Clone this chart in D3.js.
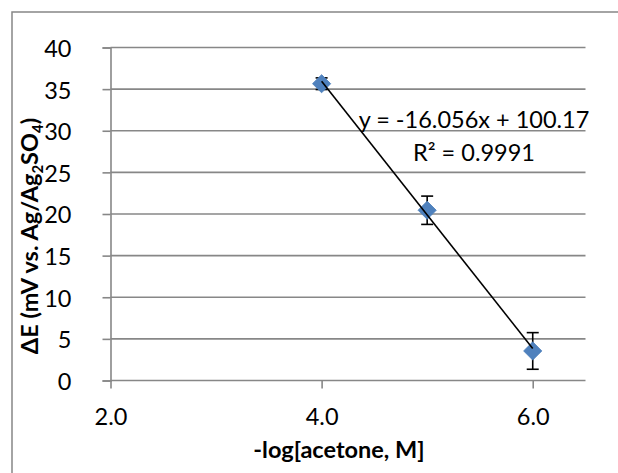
<!DOCTYPE html>
<html>
<head>
<meta charset="utf-8">
<script src="https://cdn.jsdelivr.net/npm/d3@7"></script>
<style>
  html, body { margin: 0; padding: 0; background: #fff; }
  svg { display: block; font-family: Lato, "Open Sans", sans-serif; }
</style>
</head>
<body>
<svg id="chart" width="618" height="473"></svg>
<script>
// ---- data ----
const xValues = [4, 5, 6];
const yValues = [35.65, 20.45, 3.55];
const yErrors = [0.7, 1.7, 2.2];
const xTicks = [2, 4, 6];
const yTicks = [0, 5, 10, 15, 20, 25, 30, 35, 40];
const trendSlope = -16.056;
const trendIntercept = 100.17;
const equationLabel = "y = -16.056x + 100.17";
const r2Label = "R² = 0.9991";

// ---- layout ----
const W = 618, H = 473;
const plot = { left: 110.5, right: 585.5, top: 47.5, bottom: 380.5 };
const gridColor = "#878787";
const FS = 23.5;
const svg = d3.select("#chart");

svg.append("rect").attr("x", 0).attr("y", 0).attr("width", W).attr("height", H).attr("fill", "#fff");
// chart area border (extends beyond view on right and bottom)
svg.append("rect").attr("x", 12).attr("y", 12).attr("width", W + 20).attr("height", H + 20)
  .attr("fill", "none").attr("stroke", gridColor).attr("stroke-width", 1.5);

const x = d3.scaleLinear().domain([2, 6.5]).range([plot.left, plot.right]);
const y = d3.scaleLinear().domain([0, 40]).range([plot.bottom, plot.top]);

// gridlines
svg.append("g").selectAll("line").data(yTicks.filter(d => d !== 0)).join("line")
  .attr("x1", plot.left).attr("x2", plot.right)
  .attr("y1", d => y(d)).attr("y2", d => y(d))
  .attr("stroke", gridColor).attr("stroke-width", 1.6);

// y axis
const yAxis = d3.axisLeft(y).tickValues(yTicks).tickSize(8).tickPadding(31).tickFormat(d3.format("d"));
const gy = svg.append("g").attr("transform", `translate(${plot.left},0)`).call(yAxis);
gy.select(".domain").attr("stroke", gridColor).attr("stroke-width", 1.6);
gy.selectAll(".tick line").attr("stroke", gridColor).attr("stroke-width", 1.6);
gy.selectAll(".tick text").attr("font-size", FS).attr("fill", "#000")
  .attr("font-family", "Lato, 'Open Sans', sans-serif").attr("dy", "0.38em");

// x axis
const xAxis = d3.axisBottom(x).tickValues(xTicks).tickSize(8).tickPadding(20).tickFormat(d3.format(".1f"));
const gx = svg.append("g").attr("transform", `translate(0,${plot.bottom})`).call(xAxis);
gx.select(".domain").attr("d", `M${plot.left},0H${plot.right}`).attr("stroke", gridColor).attr("stroke-width", 1.6);
gx.selectAll(".tick line").attr("stroke", gridColor).attr("stroke-width", 1.6);
gx.selectAll(".tick text").attr("font-size", FS).attr("fill", "#000")
  .attr("font-family", "Lato, 'Open Sans', sans-serif").attr("dy", "0.71em");

// error bars
const pts = xValues.map((v, i) => ({ x: v, y: yValues[i], e: yErrors[i] }));
const eb = svg.append("g").attr("stroke", "#000").attr("stroke-width", 1.6).attr("fill", "none");
pts.forEach(p => {
  const cx = x(p.x), y1 = y(p.y + p.e), y2 = y(p.y - p.e);
  eb.append("line").attr("x1", cx).attr("x2", cx).attr("y1", y1).attr("y2", y2);
  eb.append("line").attr("x1", cx - 6).attr("x2", cx + 6).attr("y1", y1).attr("y2", y1);
  eb.append("line").attr("x1", cx - 6).attr("x2", cx + 6).attr("y1", y2).attr("y2", y2);
});

// markers (diamonds)
svg.append("g").selectAll("path").data(pts).join("path")
  .attr("d", d3.symbol(d3.symbolSquare, 165))
  .attr("transform", d => `translate(${x(d.x)},${y(d.y)}) rotate(45)`)
  .attr("fill", "#4F81BD").attr("stroke", "#4A7EBB").attr("stroke-width", 0.8);

// trendline
const tx = [d3.min(xValues), d3.max(xValues)];
svg.append("line")
  .attr("x1", x(tx[0])).attr("y1", y(trendSlope * tx[0] + trendIntercept))
  .attr("x2", x(tx[1])).attr("y2", y(trendSlope * tx[1] + trendIntercept))
  .attr("stroke", "#000").attr("stroke-width", 1.6);

// trendline labels
svg.append("text").attr("x", 474).attr("y", 128).attr("text-anchor", "middle")
  .attr("font-size", FS).attr("fill", "#000").text(equationLabel);
svg.append("text").attr("x", 474).attr("y", 161).attr("text-anchor", "middle")
  .attr("font-size", FS).attr("fill", "#000").text(r2Label);

// x axis title
svg.append("text").attr("x", 339).attr("y", 458).attr("text-anchor", "middle")
  .attr("font-size", FS).attr("font-weight", "bold").attr("fill", "#000")
  .text("-log[acetone, M]");

// y axis title with subscripts
const yt = svg.append("text").attr("transform", "translate(38,236) rotate(-90)")
  .attr("text-anchor", "middle").attr("font-size", FS).attr("font-weight", "bold").attr("fill", "#000");
yt.append("tspan").text("ΔE (mV vs. Ag/Ag");
yt.append("tspan").attr("font-size", 15).attr("dy", 5).text("2");
yt.append("tspan").attr("dy", -5).text("SO");
yt.append("tspan").attr("font-size", 15).attr("dy", 5).text("4");
yt.append("tspan").attr("dy", -5).text(")");
</script>
</body>
</html>
